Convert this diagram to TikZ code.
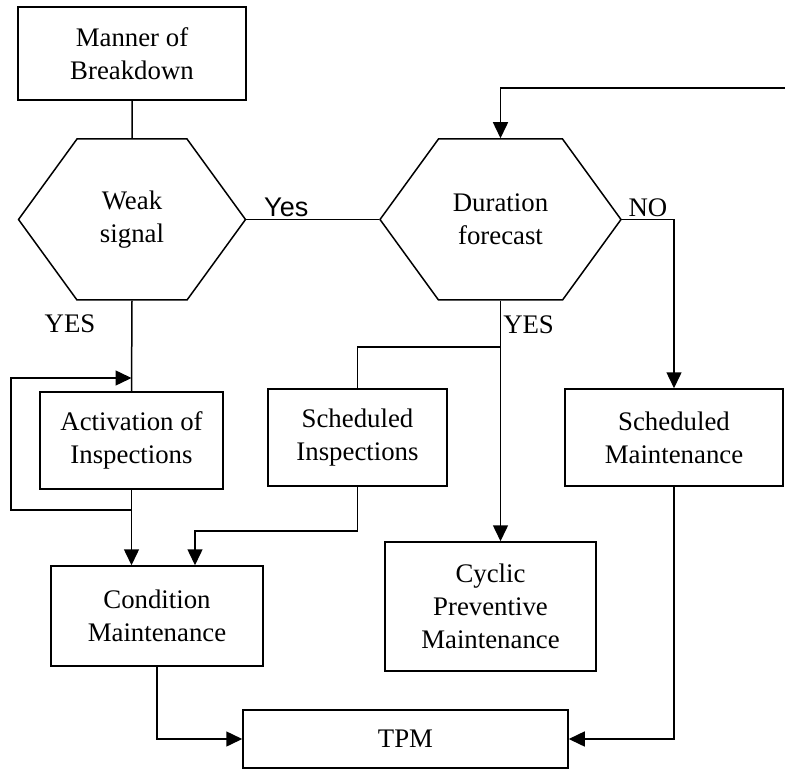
\documentclass[tikz,border=0pt]{standalone}
\usepackage{fontspec}
\setmainfont{Liberation Serif}
\newfontfamily\labelsans{Liberation Sans}
\usetikzlibrary{arrows.meta,shapes.symbols}

\begin{document}
\begin{tikzpicture}[
        x=0.5pt, y=-0.5pt,
        box/.style={draw, rectangle, line width=0.75pt, align=center, inner sep=0pt, font=\fontsize{13.4}{16.5}\selectfont},
        hexa/.style={draw, signal, signal to=east and west, signal pointer angle=108, line width=0.75pt, align=center, inner sep=0pt, font=\fontsize{13.4}{16.5}\selectfont},
        arrow/.style={line width=0.75pt, -{Triangle[length=8pt, width=7.5pt]}},
        link/.style={line width=0.75pt},
        lbl/.style={font=\fontsize{13.4}{16.5}\selectfont, inner sep=1pt}
    ]
    \useasboundingbox (0,0) rectangle (785,769);

    % Decision boxes and actions at explicit coordinates
    \node[box, minimum width=114pt, minimum height=46.5pt] (manner) at (132,53.5) {Manner of\\Breakdown};
    \node[hexa, minimum width=113.5pt, minimum height=80.5pt] (weak) at (132,219.5) {Weak\\signal};
    \node[hexa, minimum width=120.5pt, minimum height=80.5pt] (dur) at (500.5,219.5) {Duration\\forecast};

    \node[box, minimum width=91.5pt, minimum height=48.5pt] (act) at (131.5,440.5) {Activation of\\Inspections};
    \node[box, minimum width=89.5pt, minimum height=48.5pt] (schin) at (357.5,437.5) {Scheduled\\Inspections};
    \node[box, minimum width=109pt, minimum height=48.5pt] (schm) at (674,437.5) {Scheduled\\Maintenance};

    \node[box, minimum width=106pt, minimum height=50pt] (cond) at (157,616) {Condition\\Maintenance};
    \node[box, minimum width=105.5pt, minimum height=64.5pt] (cyc) at (490.5,606.5) {Cyclic\\Preventive\\Maintenance};
    \node[box, minimum width=162.5pt, minimum height=29pt] (tpm) at (405.5,739) {TPM};

    % Helper points for the loops and merges
    \coordinate (entry) at (785,88);
    \coordinate (split) at (500,347);
    \coordinate (loopa) at (132,510);
    \coordinate (loopb) at (11,378);
    \coordinate (merge) at (195,531);

    % Upper part
    \draw[link] (manner) -- (weak);
    \draw[link] (weak.east) -- node[pos=0.3, above, font=\labelsans\fontsize{13.5}{16}\selectfont, inner sep=1pt] {Yes} (dur.west);
    \draw[arrow] (entry) -| (dur.north);
    \draw[arrow] (dur.east) -| node[pos=0.25, above, lbl] {NO} (schm.north);

    % YES branches
    \draw[link] (weak.south) -- (act.north);
    \node[lbl] (yesweak) at (70,324) {YES};
    \draw[arrow] (dur.south) -- node[pos=0.1, right, lbl] {YES} (dur.south |- cyc.north);
    \draw[link] (split) -| (schin.north);

    % Feedback loop round the inspections
    \draw[arrow] (act.south) -- (act.south |- cond.north);
    \draw[arrow] (loopa) -| (loopb) -- (loopb -| act.north);
    \draw[arrow] (schin.south) |- (merge) -- (merge |- cond.north);

    % Into TPM
    \draw[arrow] (cond.south) |- (tpm.west);
    \draw[arrow] (schm.south) |- (tpm.east);

\end{tikzpicture}
\end{document}
